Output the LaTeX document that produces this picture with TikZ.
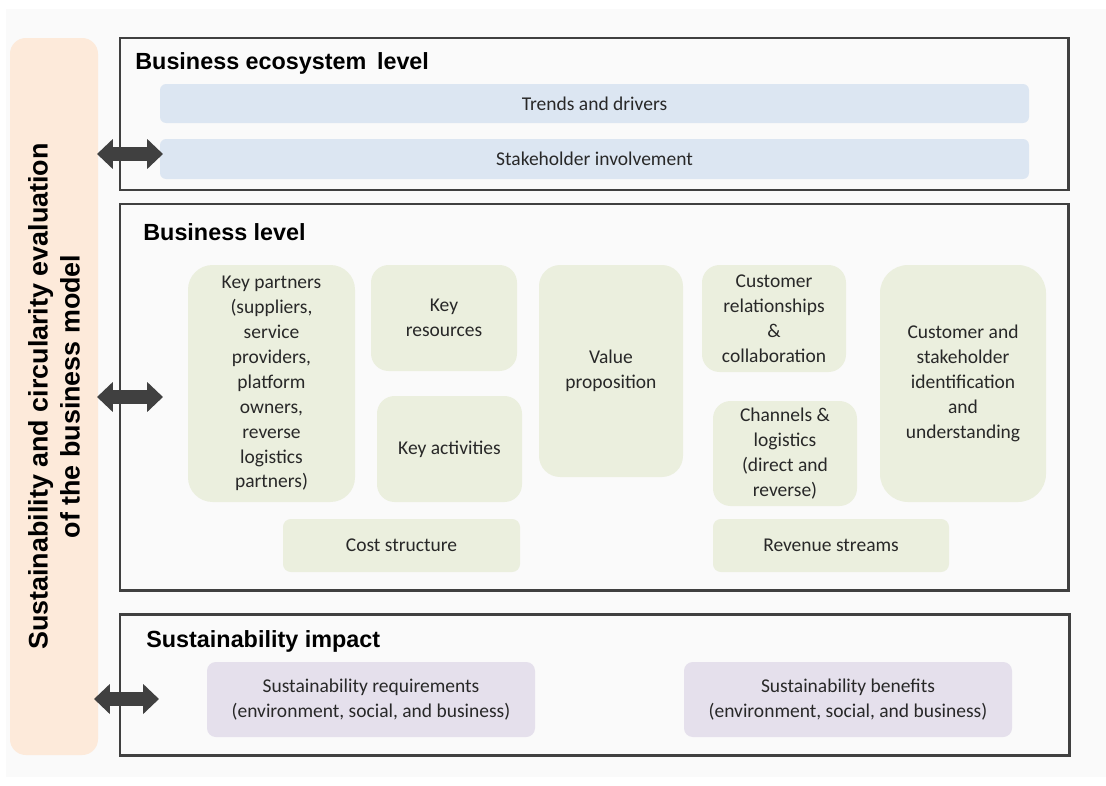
\documentclass[tikz,border=0pt]{standalone}
\usepackage{fontspec}
\setmainfont{Carlito}
\newfontfamily\headfont{Liberation Sans}
\usetikzlibrary{arrows.meta}
\definecolor{framegray}{RGB}{64,64,64}
\definecolor{pagegray}{RGB}{250,250,250}
\definecolor{peach}{RGB}{253,234,218}
\definecolor{ecoblue}{RGB}{220,230,242}
\definecolor{bmgreen}{RGB}{235,239,222}
\definecolor{impactlilac}{RGB}{229,224,236}
\definecolor{bodytext}{RGB}{40,40,40}
\begin{document}
\begin{tikzpicture}[x=0.02cm,y=-0.02cm,
  % a rectangle given by its corners (x1,y1) and (x2,y2), in drawing units
  span/.style n args={4}{minimum width={(#3-#1)*0.02cm}, minimum height={(#4-#2)*0.02cm},
    at={({(#1+#3)/2},{(#2+#4)/2})}},
  levelframe/.style={draw=framegray, line width=1.7pt, inner sep=0pt},
  leveltitle/.style={anchor=base west, inner sep=0pt, font=\headfont\bfseries\fontsize{13.3}{16}\selectfont},
  cell/.style={inner sep=0pt, align=center, text=bodytext, font=\fontsize{11.1}{14.2}\selectfont},
  ecobar/.style={cell, fill=ecoblue, rounded corners=3.5pt},
  bmcell/.style={cell, fill=bmgreen},
  impactcell/.style={cell, fill=impactlilac, rounded corners=5pt},
  fatarrow/.style={draw=framegray, line width=8pt,
    {Triangle[length=9pt,width=16.5pt]}-{Triangle[length=9pt,width=16.5pt]}}
]
\useasboundingbox (0,0) rectangle (1106,785);
\fill[white] (0,0) rectangle (1106,785);
\fill[pagegray] (6,9) rectangle (1106,777);

% evaluation panel on the left
\node[span={10}{38}{98}{755}, inner sep=0pt, fill=peach, rounded corners=9pt] (panel) {};
\node[rotate=90, align=center, font=\headfont\bfseries\fontsize{15.3}{18.2}\selectfont]
  (paneltext) at (panel.center) {Sustainability and circularity evaluation\\of the business model};

% level frames
\node[levelframe, span={120}{38}{1068}{190}] (eco) {};
\node[levelframe, span={120}{204}{1068}{590}] (biz) {};
\node[levelframe, span={120}{614}{1069}{755}] (impact) {};

\node[leveltitle] (ecotitle) at (135,69) {Business ecosystem\hspace{0.45em}level};
\node[leveltitle] (biztitle) at (143,240) {Business level};
\node[leveltitle] (impacttitle) at (146,647) {Sustainability impact};

% business ecosystem level
\node[ecobar, span={160}{84}{1029}{123}] (trends) {Trends and drivers};
\node[ecobar, span={160}{139}{1029}{179}] (stake) {Stakeholder involvement};

% business level
\node[bmcell, rounded corners=14pt, span={188}{265}{355}{502}] (partners)
  {Key partners\\(suppliers,\\service\\providers,\\platform\\owners,\\reverse\\logistics\\partners)};
\node[bmcell, rounded corners=10pt, span={371}{265}{517}{371}] (resources) {Key\\resources};
\node[bmcell, rounded corners=10pt, span={377}{396}{522}{502}] (activities) {Key activities};
\node[bmcell, rounded corners=12pt, span={539}{265}{683}{477}] (value) {Value\\proposition};
\node[bmcell, rounded corners=10pt, span={702}{265}{846}{372}] (relations)
  {Customer\\relationships\\\&\\collaboration};
\node[bmcell, rounded corners=10pt, span={713}{401}{857}{506}] (channels)
  {Channels \&\\logistics\\(direct and\\reverse)};
\node[bmcell, rounded corners=16pt, span={880}{265}{1046}{502}] (customers)
  {Customer and\\stakeholder\\identification\\and\\understanding};
\node[bmcell, rounded corners=4.5pt, span={283}{519}{520}{572}] (cost) {Cost structure};
\node[bmcell, rounded corners=4.5pt, span={713}{519}{949}{572}] (revenue) {Revenue streams};

% sustainability impact
\node[impactcell, span={207}{662}{535}{737}] (requirements)
  {Sustainability requirements\\(environment, social, and business)};
\node[impactcell, span={684}{662}{1012}{737}] (benefits)
  {Sustainability benefits\\(environment, social, and business)};

% two-way links between the evaluation panel and each level
\coordinate (ecoL) at (97,154);
\coordinate (ecoR) at (163,154);
\coordinate (bizL) at (97,397);
\coordinate (bizR) at (163,397);
\coordinate (impL) at (94,699);
\coordinate (impR) at (159,699);
\draw[fatarrow] (ecoL) -- (ecoR);
\draw[fatarrow] (bizL) -- (bizR);
\draw[fatarrow] (impL) -- (impR);
\end{tikzpicture}
\end{document}
